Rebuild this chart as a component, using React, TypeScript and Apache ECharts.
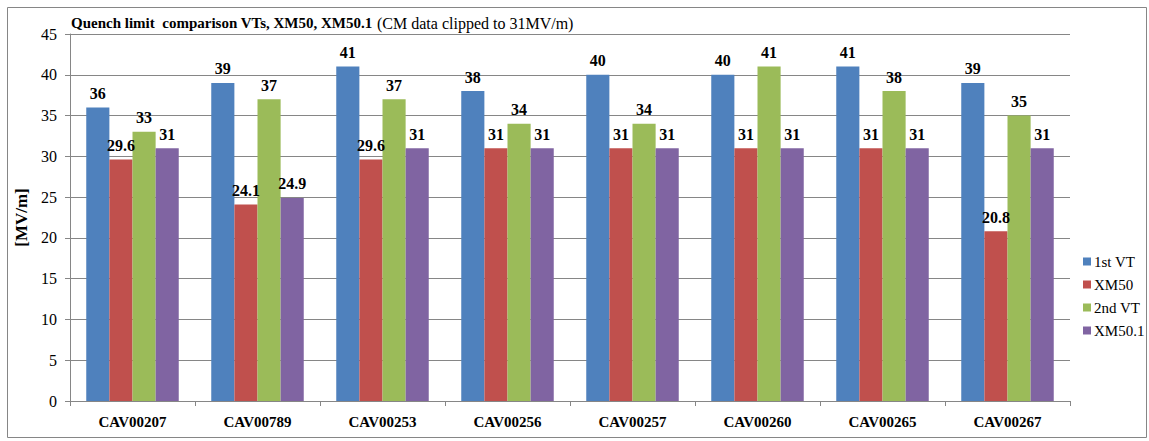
import React, { useEffect, useRef } from "react";
import * as echarts from "echarts";

const categories = ["CAV00207", "CAV00789", "CAV00253", "CAV00256", "CAV00257", "CAV00260", "CAV00265", "CAV00267"];
const firstVT = [36, 39, 41, 38, 40, 40, 41, 39];
const xm50 = [29.6, 24.1, 29.6, 31, 31, 31, 31, 20.8];
const secondVT = [33, 37, 37, 34, 34, 41, 38, 35];
const xm501 = [31, 24.9, 31, 31, 31, 31, 31, 31];
const seriesNames = ["1st VT", "XM50", "2nd VT", "XM50.1"];
const colors = ["#4F81BD", "#C0504D", "#9BBB59", "#8064A2"];

const FONT = "Liberation Serif";

export default function App() {
  const ref = useRef<HTMLDivElement>(null);
  useEffect(() => {
    if (!ref.current) return;
    const chart = echarts.init(ref.current, null, { renderer: "svg" });
    const data = [firstVT, xm50, secondVT, xm501];
    chart.setOption({
      animation: false,
      backgroundColor: "#ffffff",
      textStyle: { fontFamily: FONT },
      title: {
        text: "{b|Quench limit  comparison VTs, XM50, XM50.1} {n|(CM data clipped to 31MV/m)}",
        left: 66,
        top: 9,
        textStyle: {
          rich: {
            b: { fontFamily: FONT, fontWeight: "bold", fontSize: 15, color: "#000" },
            n: { fontFamily: FONT, fontWeight: "normal", fontSize: 16, color: "#000" },
          },
        },
      },
      legend: {
        orient: "vertical",
        left: 1078,
        top: 249,
        itemWidth: 8,
        itemHeight: 8,
        itemGap: 8,
        icon: "rect",
        data: seriesNames,
        textStyle: { fontFamily: FONT, fontSize: 15, color: "#000", padding: [0, 0, 0, -2] },
      },
      grid: { left: 70, right: 79, top: 34, bottom: 40, containLabel: false },
      xAxis: {
        type: "category",
        data: categories,
        axisLine: { show: true, lineStyle: { color: "#868686" } },
        axisTick: { show: true, alignWithLabel: false, length: 5, lineStyle: { color: "#868686" } },
        axisLabel: { fontFamily: FONT, fontWeight: "bold", fontSize: 15, color: "#000", margin: 13 },
      },
      yAxis: {
        type: "value",
        min: 0,
        max: 45,
        interval: 5,
        name: "[MV/m]",
        nameLocation: "middle",
        nameGap: 39,
        nameTextStyle: { fontFamily: FONT, fontWeight: "bold", fontSize: 17, color: "#000" },
        axisLine: { show: true, lineStyle: { color: "#868686" } },
        axisTick: { show: true, length: 5, lineStyle: { color: "#868686" } },
        axisLabel: { fontFamily: FONT, fontSize: 16, color: "#000", margin: 13 },
        splitLine: { show: true, lineStyle: { color: "#868686", width: 1 } },
      },
      series: seriesNames.map((name, i) => ({
        name,
        type: "bar",
        data: data[i],
        barGap: "0%",
        barCategoryGap: "26%",
        itemStyle: { color: colors[i] },
        label: {
          show: true,
          position: "top",
          distance: 6,
          fontFamily: FONT,
          fontWeight: "bold",
          fontSize: 16,
          color: "#000",
        },
      })),
      graphic: [
        {
          type: "rect",
          shape: { x: 7.5, y: 7.5, width: 1139, height: 430 },
          style: { fill: "none", stroke: "#868686", lineWidth: 1 },
          silent: true,
        },
      ],
    });
    return () => chart.dispose();
  }, []);
  return <div ref={ref} style={{ position: "fixed", left: 0, top: 0, width: 1149, height: 441 }} />;
}
